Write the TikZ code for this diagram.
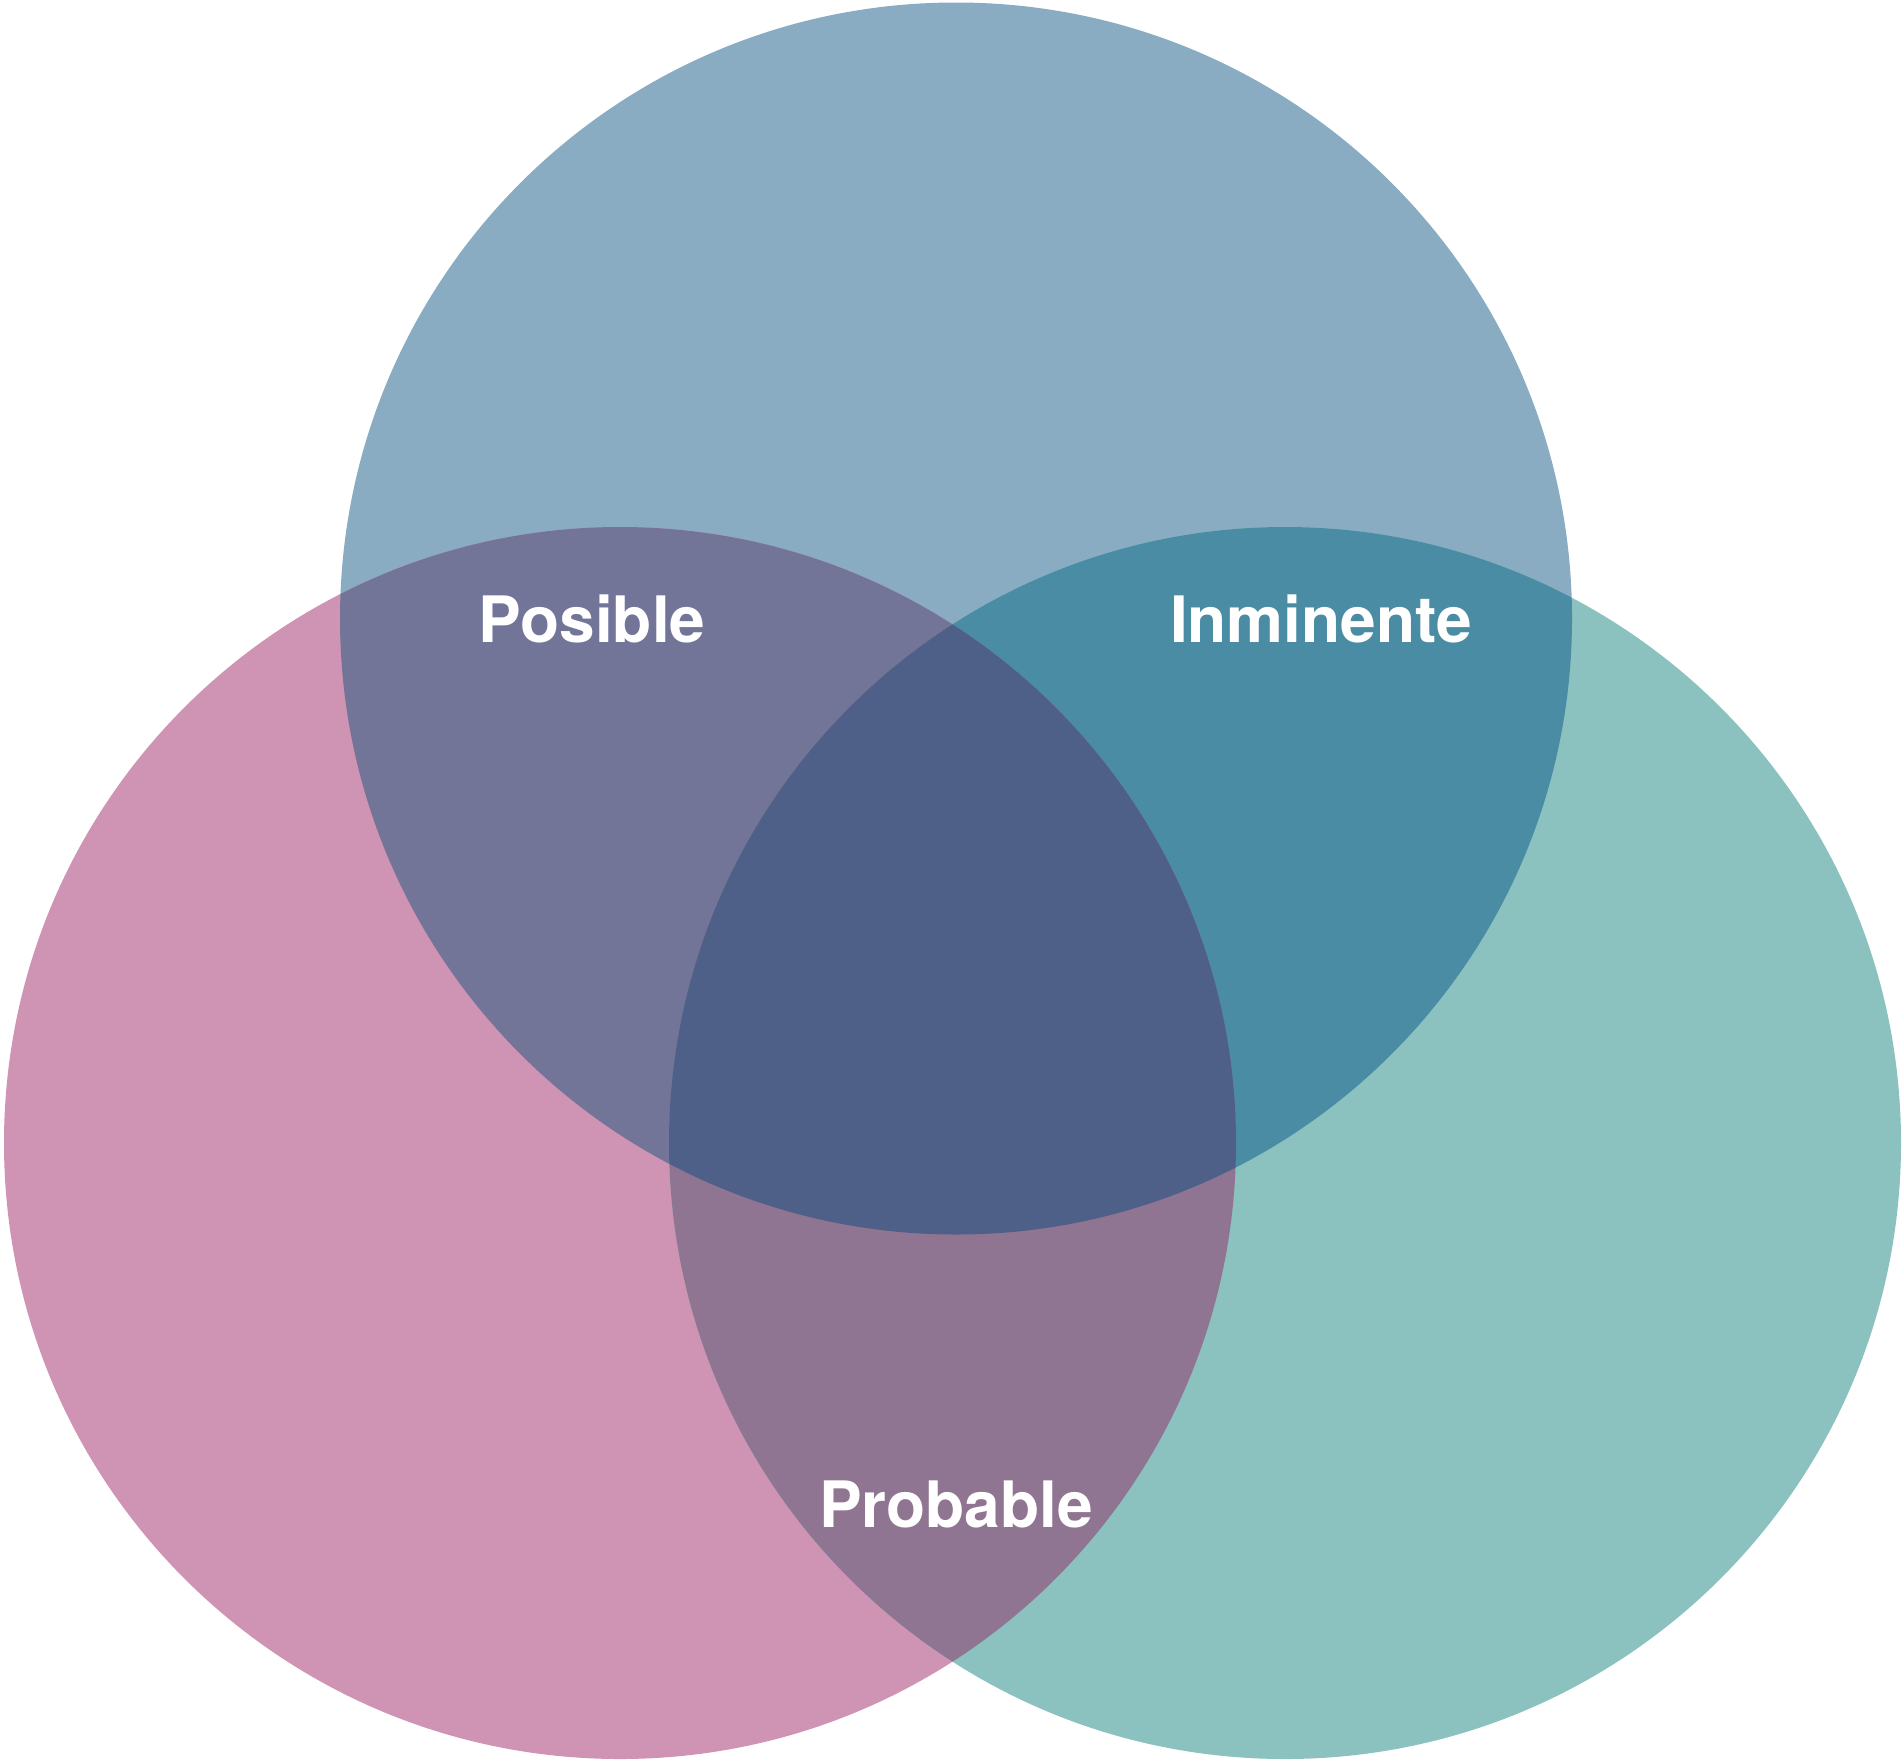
\documentclass[tikz,border=0pt]{standalone}
\usepackage{fontspec}
\setmainfont{TeX Gyre Heros}
\definecolor{cTop}{HTML}{8AACC2}
\definecolor{cLeft}{HTML}{CF93B3}
\definecolor{cRight}{HTML}{8BC2BF}
\definecolor{cTL}{HTML}{727598}
\definecolor{cTR}{HTML}{4A8CA4}
\definecolor{cLR}{HTML}{8F7591}
\definecolor{cAll}{HTML}{4E6088}
\begin{document}
\begin{tikzpicture}[x=1pt,y=-1pt,
  lbl/.style={text=white,font=\fontsize{64}{64}\selectfont\bfseries,anchor=base,inner sep=0pt}]
\useasboundingbox (0,0) rectangle (1902,1762);
\def\R{616}
\coordinate (T) at (956,618.5);
\coordinate (L) at (620,1143);
\coordinate (Rc) at (1285,1143);
% base circles
\fill[cTop] (T) circle[radius=\R];
\fill[cLeft] (L) circle[radius=\R];
\fill[cRight] (Rc) circle[radius=\R];
% pairwise overlaps
\begin{scope}
  \clip (T) circle[radius=\R];
  \fill[cTL] (L) circle[radius=\R];
  \fill[cTR] (Rc) circle[radius=\R];
\end{scope}
\begin{scope}
  \clip (L) circle[radius=\R];
  \fill[cLR] (Rc) circle[radius=\R];
  \clip (Rc) circle[radius=\R];
  \fill[cAll] (T) circle[radius=\R];
\end{scope}
\node[lbl] (posible) at (592,642) {Posible};
\node[lbl] (inminente) at (1321,642) {Inminente};
\node[lbl] (probable) at (956,1527) {Probable};
\end{tikzpicture}
\end{document}
